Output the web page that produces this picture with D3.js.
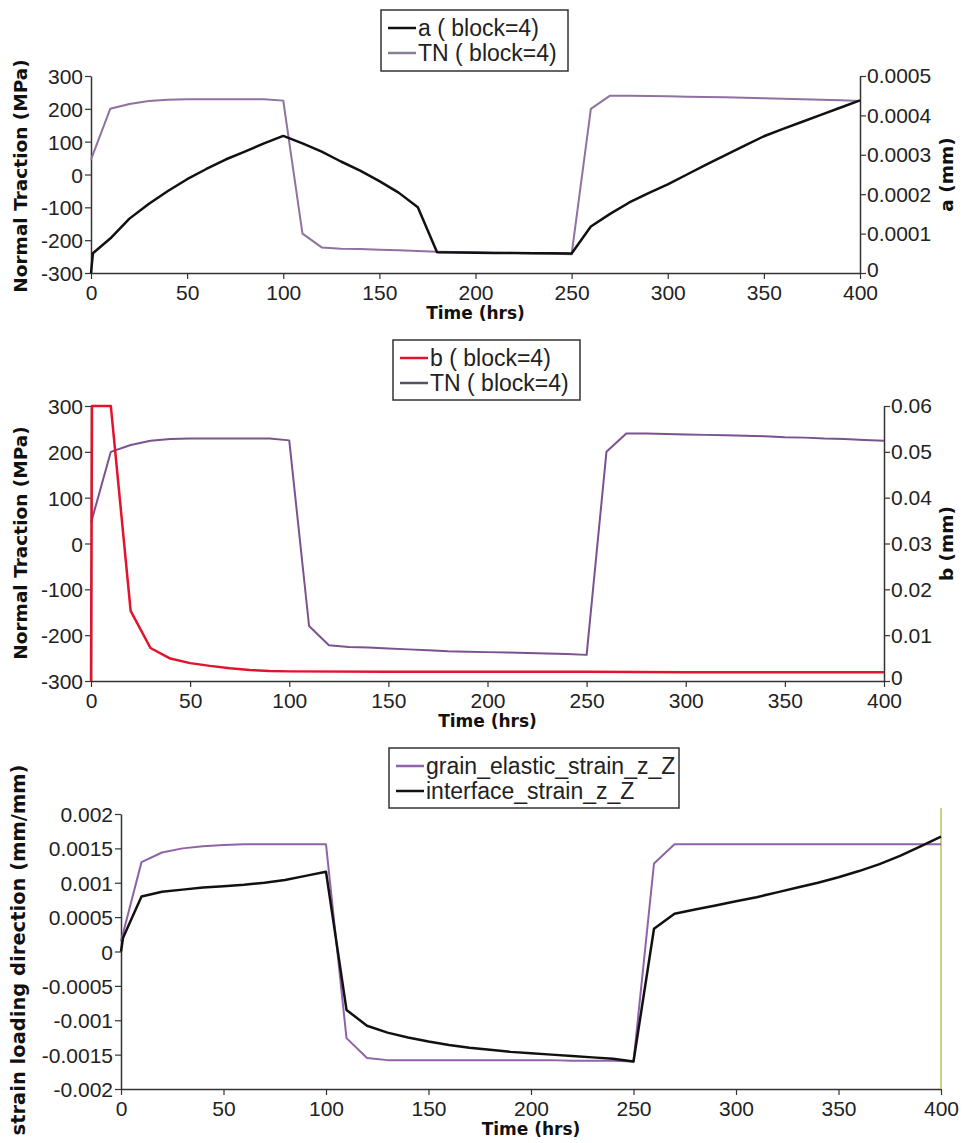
<!DOCTYPE html>
<html><head><meta charset="utf-8">
<script src="https://cdn.jsdelivr.net/npm/d3@7"></script>
<style>
body{margin:0;background:#fff;}
svg{display:block;}
.tick text{font-family:"Liberation Sans",Arial,sans-serif;font-size:21px;fill:#222;}
.ttl{font-family:"DejaVu Sans",sans-serif;font-weight:bold;font-size:18.5px;fill:#111;}
.leg{font-family:"Liberation Sans",Arial,sans-serif;font-size:23px;fill:#222;}
</style></head>
<body>
<svg id="c" width="964" height="1143"></svg>
<script>
// ---------- DATA ----------
const xTicks = [0,50,100,150,200,250,300,350,400];

// Panel 1 & 2: normal traction TN (MPa)
const tnTime = [0,10,20,30,40,50,60,70,80,90,100,110,120,130,140,150,160,170,180,190,200,210,220,230,240,250,260,270,280,290,300,310,320,330,340,350,360,370,380,390,400];
const tnValues = [45,200,215,224,228,229,229,229,229,229,225,-180,-222,-226,-227,-229,-231,-233,-235,-236,-237,-238,-239,-240,-241,-243,200,240,240,239,238,237,236,235,234,232,231,229,228,226,224];
const tractionTicks = [-300,-200,-100,0,100,200,300];

// Panel 1: a (mm)
const aTime = [0,1,10,20,30,40,50,60,70,80,90,100,110,120,130,140,150,160,170,180,190,200,210,220,230,240,250,260,270,280,290,300,310,320,330,340,350,360,370,380,390,400];
const aValues = [0,0.00005,0.0000875,0.000138,0.000175,0.000208,0.000238,0.000264,0.000288,0.000308,0.000329,0.000348,0.000329,0.000308,0.000283,0.00026,0.000233,0.000204,0.000167,0.0000525,0.000052,0.0000515,0.000051,0.0000505,0.00005,0.00005,0.0000495,0.000118,0.00015,0.000179,0.000203,0.000225,0.00025,0.000275,0.000299,0.000323,0.000347,0.000366,0.000384,0.000402,0.00042,0.000438];
const aTicks = [0,0.0001,0.0002,0.0003,0.0004,0.0005];

// Panel 2: b (mm)
const bTime = [0,0.5,10,20,30,40,50,60,70,80,90,100,150,200,250,300,350,400];
const bValues = [0,0.06,0.06,0.0153,0.0072,0.0049,0.0039,0.0033,0.0028,0.0024,0.0022,0.0021,0.002,0.002,0.002,0.0019,0.0019,0.0019];
const bTicks = [0,0.01,0.02,0.03,0.04,0.05,0.06];

// Panel 3: strains (mm/mm)
const grainTime = tnTime;
const grainValues = [0.00015,0.0013,0.00144,0.0015,0.00153,0.00155,0.00156,0.00156,0.00156,0.00156,0.00156,-0.00126,-0.00155,-0.00158,-0.00158,-0.00158,-0.00158,-0.00158,-0.00158,-0.00158,-0.00158,-0.00158,-0.00159,-0.00159,-0.00159,-0.0016,0.00128,0.00156,0.00156,0.00156,0.00156,0.00156,0.00156,0.00156,0.00156,0.00156,0.00156,0.00156,0.00156,0.00156,0.00156];
const ifTime = [0,1,10,20,30,40,50,60,70,80,90,100,110,120,130,140,150,160,170,180,190,200,210,220,230,240,250,260,270,280,290,300,310,320,330,340,350,360,370,380,390,400];
const ifValues = [0,0.0002,0.0008,0.00087,0.0009,0.00093,0.00095,0.00097,0.001,0.00104,0.0011,0.00116,-0.00085,-0.00108,-0.00118,-0.00125,-0.00131,-0.00136,-0.0014,-0.00143,-0.00146,-0.00148,-0.0015,-0.00152,-0.00154,-0.00156,-0.0016,0.00033,0.00055,0.00061,0.00067,0.00073,0.00079,0.00086,0.00093,0.001,0.00108,0.00117,0.00127,0.00139,0.00153,0.00167];
const strainTicks = [-0.002,-0.0015,-0.001,-0.0005,0,0.0005,0.001,0.0015,0.002];

// ---------- DRAW ----------
const svg = d3.select("#c");
const fmt = d => String(d);

function zip(t,v){ return t.map((x,i)=>[x,v[i]]); }

function drawLine(g, x, y, t, v, color, w){
  g.append("path").datum(zip(t,v))
    .attr("fill","none").attr("stroke",color).attr("stroke-width",w)
    .attr("stroke-linejoin","round")
    .attr("d", d3.line().x(d=>x(d[0])).y(d=>y(d[1])));
}

function legend(x0,y0,w,h,items){
  const g = svg.append("g");
  g.append("rect").attr("x",x0).attr("y",y0).attr("width",w).attr("height",h)
    .attr("fill","#fff").attr("stroke","#333").attr("stroke-width",1.5);
  items.forEach((it,i)=>{
    const cy = y0 + 18 + i*25;
    g.append("line").attr("x1",x0+7).attr("x2",x0+35).attr("y1",cy).attr("y2",cy)
      .attr("stroke",it.color).attr("stroke-width",2.5);
    g.append("text").attr("class","leg").attr("x",x0+37).attr("y",cy+8).text(it.label);
  });
}

function styleAxis(g){
  g.select(".domain").attr("stroke","#333").attr("stroke-width",1.5);
  g.selectAll(".tick line").attr("stroke","#333").attr("stroke-width",1.2);
}

function panel(o){
  const x = d3.scaleLinear().domain([0,400]).range([o.x0,o.x1]);
  const yL = d3.scaleLinear().domain(o.lDom).range([o.yb,o.yt]);
  const gx = svg.append("g").attr("transform",`translate(0,${o.yb})`)
    .call(d3.axisBottom(x).tickValues(xTicks).tickFormat(fmt).tickSize(6).tickPadding(6).tickSizeOuter(0));
  styleAxis(gx);
  const gl = svg.append("g").attr("transform",`translate(${o.x0},0)`)
    .call(d3.axisLeft(yL).tickValues(o.lTicks).tickFormat(fmt).tickSize(6).tickPadding(2).tickSizeOuter(0));
  styleAxis(gl);
  gl.selectAll(".tick text").attr("dy","0.36em");
  let yR = null;
  if(o.rDom){
    yR = d3.scaleLinear().domain(o.rDom).range([o.yb,o.yt]);
    const gr = svg.append("g").attr("transform",`translate(${o.x1},0)`)
      .call(d3.axisRight(yR).tickValues(o.rTicks).tickFormat(fmt).tickSize(6).tickPadding(1).tickSizeOuter(0));
    styleAxis(gr);
    gr.selectAll(".tick text").attr("dy", d => d === 0 ? "0.18em" : "0.33em");
    svg.append("text").attr("class","ttl")
      .attr("transform",`translate(${o.rTitleX},${(o.yb+o.yt)/2}) rotate(-90)`)
      .attr("text-anchor","middle").text(o.rTitle);
  }
  svg.append("text").attr("class","ttl").attr("x",(o.x0+o.x1)/2).attr("y",o.yb+46)
    .attr("text-anchor","middle").style("font-size","17px").text("Time (hrs)");
  svg.append("text").attr("class","ttl")
    .attr("transform",`translate(${o.lTitleX},${o.lTitleY}) rotate(-90)`)
    .attr("text-anchor","middle").style("font-size",o.lTitleSize+"px").text(o.lTitle);
  return {x,yL,yR};
}

// Panel 1
const p1 = panel({x0:91,x1:860,yt:76,yb:273,lDom:[-300,300],lTicks:tractionTicks,
  rDom:[0,0.0005],rTicks:aTicks,rTitle:"a (mm)",rTitleX:953,
  lTitle:"Normal Traction (MPa)",lTitleX:27,lTitleY:176,lTitleSize:18.5});
const g1 = svg.append("g");
drawLine(g1,p1.x,p1.yL,tnTime,tnValues,"#8f72a0",2);
drawLine(g1,p1.x,p1.yR,aTime,aValues,"#111",2.5);
legend(381,10,187,61,[{label:"a ( block=4)",color:"#111"},{label:"TN ( block=4)",color:"#8a8090"}]);

// Panel 2
const p2 = panel({x0:91,x1:884,yt:406,yb:681,lDom:[-300,300],lTicks:tractionTicks,
  rDom:[0,0.06],rTicks:bTicks,rTitle:"b (mm)",rTitleX:953,
  lTitle:"Normal Traction (MPa)",lTitleX:27,lTitleY:543,lTitleSize:18.5});
const g2 = svg.append("g");
drawLine(g2,p2.x,p2.yL,tnTime,tnValues,"#7a5290",2);
drawLine(g2,p2.x,p2.yR,bTime,bValues,"#e3122d",2.5);
legend(393,340,187,60,[{label:"b ( block=4)",color:"#e3122d"},{label:"TN ( block=4)",color:"#5a5060"}]);

// Panel 3
const p3 = panel({x0:121,x1:941,yt:814,yb:1089,lDom:[-0.002,0.002],lTicks:strainTicks,
  lTitle:"strain loading direction (mm/mm)",lTitleX:25,lTitleY:950,lTitleSize:19.5});
svg.append("line").attr("x1",941).attr("x2",941).attr("y1",808).attr("y2",1089)
  .attr("stroke","#b9c060").attr("stroke-width",1.5);
const g3 = svg.append("g");
drawLine(g3,p3.x,p3.yL,grainTime,grainValues,"#8f63a6",2);
drawLine(g3,p3.x,p3.yL,ifTime,ifValues,"#111",2.5);
legend(389,748,290,60,[{label:"grain_elastic_strain_z_Z",color:"#8f63a6"},{label:"interface_strain_z_Z",color:"#111"}]);
</script>
</body></html>
